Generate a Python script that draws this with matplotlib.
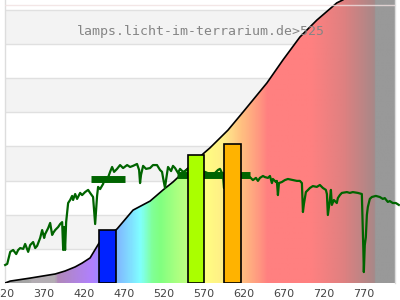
import numpy as np
import matplotlib.pyplot as plt
from matplotlib.colors import LinearSegmentedColormap
from matplotlib.patches import Polygon
from matplotlib.transforms import ScaledTranslation

# x ticks (wavelength, nm)
tick_nm = [320, 370, 420, 470, 520, 570, 620, 670, 720, 770]

# cumulative curve (black line, rainbow fill below it)
curve_nm = [316.2, 322.5, 347.5, 378.8, 391.2, 403.8, 412.5, 422.5, 433.8, 456.2,
            476.2, 497.5, 513.8, 526.2, 543.8, 565.0, 572.5, 595.0, 613.8, 643.8,
            663.8, 685.0, 706.2, 731.2, 738.8, 760.0, 804.0]
curve_v = [0, 0.7, 1.8, 3.3, 4.4, 5.9, 7.3, 9.2, 14.7, 19.8,
           26.7, 30.0, 34.1, 37.0, 41.8, 47.6, 49.5, 56.0, 62.6, 73.3,
           81.7, 90.1, 96.3, 102.6, 103.7, 109.0, 118.0]

# measured spectrum (green line)
spec_nm = [316.2, 318.8, 322.5, 326.2, 330.0, 332.5, 335.0, 338.8, 341.2, 345.0,
           347.5, 351.2, 353.8, 356.2, 360.0, 362.5, 365.0, 366.2, 370.0, 372.5,
           375.0, 376.2, 378.8, 382.5, 385.0, 387.5, 388.8, 390.0, 391.2, 392.5,
           393.8, 395.0, 397.5, 400.0, 401.2, 403.8, 406.2, 410.0, 412.5, 416.2,
           420.0, 422.5, 426.2, 428.8, 430.0, 431.2, 432.5, 435.0, 438.8, 441.2,
           443.8, 447.5, 450.0, 452.5, 456.2, 460.0, 463.8, 468.8, 472.5, 476.2,
           481.2, 483.8, 485.0, 486.2, 488.8, 492.5, 497.5, 501.2, 506.2, 510.0,
           512.5, 513.8, 516.2, 517.5, 520.0, 523.8, 526.2, 528.8, 532.5, 535.0,
           538.8, 543.8, 547.5, 560.0, 566.2, 572.5, 578.8, 582.5, 585.0, 587.5,
           588.8, 590.0, 592.5, 612.5, 617.5, 622.5, 626.2, 630.0, 632.5, 635.0,
           638.8, 641.2, 645.0, 647.5, 650.0, 651.2, 655.0, 656.2, 657.5, 658.8,
           662.5, 666.2, 670.0, 676.2, 681.2, 685.0, 687.5, 688.8, 690.0, 692.5,
           697.5, 701.2, 706.2, 710.0, 713.8, 717.5, 718.8, 720.0, 721.2, 722.5,
           723.8, 725.0, 727.5, 731.2, 732.5, 735.0, 737.5, 743.8, 747.5, 751.2,
           757.5, 762.5, 763.8, 764.4, 765.0, 766.2, 767.5, 768.8, 770.0, 772.5,
           775.0, 780.0, 785.0, 788.8, 791.2, 795.0, 797.5, 801.2, 805.0, 808.8]
spec_v = [6.6, 7.0, 11.4, 12.1, 10.6, 12.1, 12.8, 12.5, 14.3, 11.4,
          13.9, 15.0, 12.8, 13.6, 16.5, 19.4, 16.5, 17.9, 20.1, 22.0,
          17.6, 18.3, 19.4, 20.5, 21.6, 22.3, 12.1, 20.5, 12.1, 22.3,
          26.0, 29.3, 30.4, 31.9, 30.4, 32.6, 30.8, 33.0, 32.2, 33.3,
          34.1, 33.0, 31.5, 21.6, 26.7, 31.9, 35.2, 34.4, 36.3, 38.8,
          37.7, 40.7, 42.5, 40.7, 41.8, 43.2, 42.1, 43.2, 42.5, 42.9,
          43.6, 41.4, 36.6, 39.6, 42.9, 41.8, 42.1, 43.2, 43.2, 41.4,
          40.7, 38.5, 34.8, 37.7, 42.5, 41.0, 42.9, 42.1, 40.3, 41.8,
          40.7, 41.4, 40.7, 41.0, 40.7, 39.9, 40.3, 41.4, 41.8, 40.3,
          39.2, 34.8, 38.5, 39.2, 38.8, 38.8, 37.7, 38.5, 37.4, 38.5,
          39.2, 38.8, 38.5, 39.2, 36.6, 38.1, 37.0, 37.4, 32.2, 36.6,
          37.0, 37.7, 38.1, 37.7, 37.4, 37.4, 36.6, 26.0, 28.9, 33.3,
          34.8, 35.5, 35.2, 35.9, 34.8, 34.1, 32.6, 24.9, 27.5, 30.4,
          34.1, 28.6, 30.4, 29.3, 31.1, 32.2, 33.0, 33.3, 33.0, 33.3,
          33.0, 32.6, 19.4, 12.1, 4.0, 13.9, 16.8, 24.9, 27.8, 30.8,
          31.5, 31.9, 31.5, 30.8, 31.1, 29.7, 30.0, 29.3, 29.3, 28.6]

# dense flat parts of the spectrum
flat_nm = [(424, 466), (531, 622)]
flat_v = [38.1, 39.5]

# LED bars
bar_nm = [444.5, 555.0, 600.5]
bar_v = [19.4, 46.9, 50.9]
bar_col = ['#0022ff', '#aaff00', '#ffb300']

# pastel spectrum colours for the fill
grad_nm = [316, 346, 348, 378, 381, 400, 425, 434, 456, 470, 485, 500, 510, 530,
           545, 565, 590, 600, 612, 630, 645, 700, 740, 779, 781, 804]
grad_col = ['#a0a0a0', '#a6a6a6', '#b3adb3', '#b3adb3', '#b088b8', '#b085d8',
            '#b080ff', '#9a8cff', '#80b8ff', '#80d8ff', '#80ffff', '#80ff98',
            '#80ff80', '#a8ff80', '#c0ff80', '#ffff80', '#ffee88', '#ffd888',
            '#ffc080', '#ffa080', '#ff8080', '#ff8080', '#e08080', '#a88888',
            '#999999', '#999999']

x0, x1 = 316, 804
y1 = 103.66

fig = plt.figure(figsize=(4, 3), dpi=100)
ax = fig.add_axes([5 / 400, 17 / 300, 390 / 400, 283 / 300])

# background bands
for k in range(1, 8, 2):
    ax.axhspan(12.5 * k, 12.5 * (k + 1), color='#f3f3f3', lw=0, zorder=0)
for k in range(0, 9):
    ax.axhline(12.5 * k, color='#e0e0e0', lw=1, zorder=0.5)

# rainbow fill under the curve
pos = [(n - x0) / (x1 - x0) for n in grad_nm]
cm = LinearSegmentedColormap.from_list('spec', list(zip(pos, grad_col)))
img = ax.imshow(np.linspace(0, 1, 800)[None, :], extent=[x0, x1, 0, 120],
                aspect='auto', cmap=cm, interpolation='bilinear', zorder=2)
verts = [(curve_nm[0], 0)] + list(zip(curve_nm, curve_v)) + [(curve_nm[-1], 0)]
poly = Polygon(verts, closed=True, transform=ax.transData, fc='none', ec='none')
img.set_clip_path(poly)
ax.plot(curve_nm, curve_v, color='black', lw=1.2, zorder=3)

ax.axhline(101.8, color='#f0e0e0', lw=1, alpha=0.8, zorder=3.5)

# spectrum
ax.plot(spec_nm, spec_v, color='#006400', lw=1.6, zorder=4, clip_on=False)
for (a, b), v in zip(flat_nm, flat_v):
    ax.plot([a, b], [v, v], color='#006400', lw=5, solid_capstyle='butt', zorder=4)

ax.bar(bar_nm, bar_v, width=21, color=bar_col, edgecolor='black', lw=1.2, zorder=5)

fig.text(201 / 400, 1 - 32 / 300, 'lamps.licht-im-terrarium.de>525',
         family='DejaVu Sans Mono', size=9.5, color='#858585',
         ha='center', va='center', zorder=10)

ax.set_xlim(x0, x1)
ax.set_ylim(0, y1)
ax.set_xticks(tick_nm)
ax.set_xticklabels([str(t) for t in tick_nm])
ax.set_yticks([])
ax.tick_params(axis='x', length=0, pad=4, labelsize=8, labelcolor='#444444')
# labels sit a few pixels left of their ticks, first one clipped by the edge
shift = ScaledTranslation(-4 / 100, 0, fig.dpi_scale_trans)
for lab in ax.get_xticklabels():
    lab.set_transform(lab.get_transform() + shift)
for s in ['top', 'bottom']:
    ax.spines[s].set_visible(False)
for s in ['left', 'right']:
    ax.spines[s].set_color('#dddddd')
    ax.spines[s].set_linewidth(1)

fig.savefig('out.png', dpi=100)
